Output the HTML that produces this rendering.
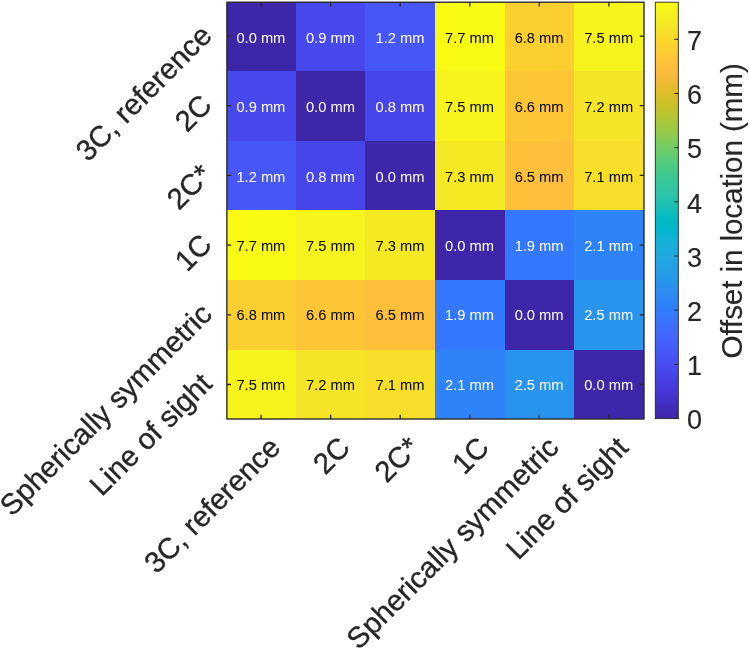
<!DOCTYPE html><html><head><meta charset="utf-8"><title>Offset in location heatmap</title><style>html,body{margin:0;padding:0;background:#fff}svg{display:block}text{font-family:"Liberation Sans",Arial,sans-serif}</style></head><body>
<svg width="749" height="648" viewBox="0 0 749 648">
<rect width="749" height="648" fill="#fff"/>
<defs><linearGradient id="cb" x1="0" y1="1" x2="0" y2="0">
<stop offset="0.0000" stop-color="#3e26a8"/>
<stop offset="0.0159" stop-color="#402ab4"/>
<stop offset="0.0317" stop-color="#422ec0"/>
<stop offset="0.0476" stop-color="#4332cb"/>
<stop offset="0.0635" stop-color="#4537d5"/>
<stop offset="0.0794" stop-color="#463cde"/>
<stop offset="0.0952" stop-color="#4741e5"/>
<stop offset="0.1111" stop-color="#4747eb"/>
<stop offset="0.1270" stop-color="#484df0"/>
<stop offset="0.1429" stop-color="#4852f4"/>
<stop offset="0.1587" stop-color="#4758f8"/>
<stop offset="0.1746" stop-color="#465efb"/>
<stop offset="0.1905" stop-color="#4563fd"/>
<stop offset="0.2063" stop-color="#4269fe"/>
<stop offset="0.2222" stop-color="#3e6fff"/>
<stop offset="0.2381" stop-color="#3875fe"/>
<stop offset="0.2540" stop-color="#327cfc"/>
<stop offset="0.2698" stop-color="#2f81fa"/>
<stop offset="0.2857" stop-color="#2e87f7"/>
<stop offset="0.3016" stop-color="#2d8cf3"/>
<stop offset="0.3175" stop-color="#2b91ef"/>
<stop offset="0.3333" stop-color="#2797eb"/>
<stop offset="0.3492" stop-color="#259be8"/>
<stop offset="0.3651" stop-color="#23a0e5"/>
<stop offset="0.3810" stop-color="#20a5e3"/>
<stop offset="0.3968" stop-color="#1ca9df"/>
<stop offset="0.4127" stop-color="#18addb"/>
<stop offset="0.4286" stop-color="#12b1d6"/>
<stop offset="0.4444" stop-color="#08b5d0"/>
<stop offset="0.4603" stop-color="#01b8ca"/>
<stop offset="0.4762" stop-color="#02bac3"/>
<stop offset="0.4921" stop-color="#0bbdbd"/>
<stop offset="0.5079" stop-color="#19bfb6"/>
<stop offset="0.5238" stop-color="#24c1ae"/>
<stop offset="0.5397" stop-color="#2cc4a7"/>
<stop offset="0.5556" stop-color="#31c69f"/>
<stop offset="0.5714" stop-color="#37c897"/>
<stop offset="0.5873" stop-color="#3fca8e"/>
<stop offset="0.6032" stop-color="#4acb84"/>
<stop offset="0.6190" stop-color="#57cc7a"/>
<stop offset="0.6349" stop-color="#64cd6f"/>
<stop offset="0.6508" stop-color="#72cd64"/>
<stop offset="0.6667" stop-color="#81cc59"/>
<stop offset="0.6825" stop-color="#8fcb4e"/>
<stop offset="0.6984" stop-color="#9dc943"/>
<stop offset="0.7143" stop-color="#abc739"/>
<stop offset="0.7302" stop-color="#b9c431"/>
<stop offset="0.7460" stop-color="#c5c22a"/>
<stop offset="0.7619" stop-color="#d1bf27"/>
<stop offset="0.7778" stop-color="#dcbd29"/>
<stop offset="0.7937" stop-color="#e6bb2d"/>
<stop offset="0.8095" stop-color="#f0ba36"/>
<stop offset="0.8254" stop-color="#f8ba3d"/>
<stop offset="0.8413" stop-color="#febe3c"/>
<stop offset="0.8571" stop-color="#fec338"/>
<stop offset="0.8730" stop-color="#fec934"/>
<stop offset="0.8889" stop-color="#fccf30"/>
<stop offset="0.9048" stop-color="#fad62d"/>
<stop offset="0.9206" stop-color="#f7dc2a"/>
<stop offset="0.9365" stop-color="#f5e327"/>
<stop offset="0.9524" stop-color="#f5e924"/>
<stop offset="0.9683" stop-color="#f6ef20"/>
<stop offset="0.9841" stop-color="#f7f51b"/>
<stop offset="1.0000" stop-color="#f9fb15"/>
</linearGradient></defs>
<clipPath id="cp"><rect x="226.90" y="2.20" width="417.10" height="416.80"/></clipPath><g clip-path="url(#cp)">
<rect x="226.30" y="1.60" width="69.86" height="69.54" fill="#3e26a8" shape-rendering="crispEdges"/>
<rect x="295.86" y="1.60" width="69.86" height="69.54" fill="#4849ed" shape-rendering="crispEdges"/>
<rect x="365.42" y="1.60" width="69.86" height="69.54" fill="#4757f7" shape-rendering="crispEdges"/>
<rect x="434.98" y="1.60" width="69.86" height="69.54" fill="#f9fb15" shape-rendering="crispEdges"/>
<rect x="504.54" y="1.60" width="69.86" height="69.54" fill="#fccf31" shape-rendering="crispEdges"/>
<rect x="574.10" y="1.60" width="69.86" height="69.54" fill="#f6f31d" shape-rendering="crispEdges"/>
<rect x="226.30" y="70.84" width="69.86" height="70.06" fill="#4849ed" shape-rendering="crispEdges"/>
<rect x="295.86" y="70.84" width="69.86" height="70.06" fill="#3e26a8" shape-rendering="crispEdges"/>
<rect x="365.42" y="70.84" width="69.86" height="70.06" fill="#4745e9" shape-rendering="crispEdges"/>
<rect x="434.98" y="70.84" width="69.86" height="70.06" fill="#f6f31d" shape-rendering="crispEdges"/>
<rect x="504.54" y="70.84" width="69.86" height="70.06" fill="#fec537" shape-rendering="crispEdges"/>
<rect x="574.10" y="70.84" width="69.86" height="70.06" fill="#f5e427" shape-rendering="crispEdges"/>
<rect x="226.30" y="140.60" width="69.86" height="70.00" fill="#4757f7" shape-rendering="crispEdges"/>
<rect x="295.86" y="140.60" width="69.86" height="70.00" fill="#4745e9" shape-rendering="crispEdges"/>
<rect x="365.42" y="140.60" width="69.86" height="70.00" fill="#3e26a8" shape-rendering="crispEdges"/>
<rect x="434.98" y="140.60" width="69.86" height="70.00" fill="#f5e924" shape-rendering="crispEdges"/>
<rect x="504.54" y="140.60" width="69.86" height="70.00" fill="#fec03b" shape-rendering="crispEdges"/>
<rect x="574.10" y="140.60" width="69.86" height="70.00" fill="#f6de29" shape-rendering="crispEdges"/>
<rect x="226.30" y="210.30" width="69.86" height="70.10" fill="#f9fb15" shape-rendering="crispEdges"/>
<rect x="295.86" y="210.30" width="69.86" height="70.10" fill="#f6f31d" shape-rendering="crispEdges"/>
<rect x="365.42" y="210.30" width="69.86" height="70.10" fill="#f5e924" shape-rendering="crispEdges"/>
<rect x="434.98" y="210.30" width="69.86" height="70.10" fill="#3e26a8" shape-rendering="crispEdges"/>
<rect x="504.54" y="210.30" width="69.86" height="70.10" fill="#3479fd" shape-rendering="crispEdges"/>
<rect x="574.10" y="210.30" width="69.86" height="70.10" fill="#2e83f9" shape-rendering="crispEdges"/>
<rect x="226.30" y="280.10" width="69.86" height="70.04" fill="#fccf31" shape-rendering="crispEdges"/>
<rect x="295.86" y="280.10" width="69.86" height="70.04" fill="#fec537" shape-rendering="crispEdges"/>
<rect x="365.42" y="280.10" width="69.86" height="70.04" fill="#fec03b" shape-rendering="crispEdges"/>
<rect x="434.98" y="280.10" width="69.86" height="70.04" fill="#3479fd" shape-rendering="crispEdges"/>
<rect x="504.54" y="280.10" width="69.86" height="70.04" fill="#3e26a8" shape-rendering="crispEdges"/>
<rect x="574.10" y="280.10" width="69.86" height="70.04" fill="#2994ed" shape-rendering="crispEdges"/>
<rect x="226.30" y="349.84" width="69.86" height="69.66" fill="#f6f31d" shape-rendering="crispEdges"/>
<rect x="295.86" y="349.84" width="69.86" height="69.66" fill="#f5e427" shape-rendering="crispEdges"/>
<rect x="365.42" y="349.84" width="69.86" height="69.66" fill="#f6de29" shape-rendering="crispEdges"/>
<rect x="434.98" y="349.84" width="69.86" height="69.66" fill="#2e83f9" shape-rendering="crispEdges"/>
<rect x="504.54" y="349.84" width="69.86" height="69.66" fill="#2994ed" shape-rendering="crispEdges"/>
<rect x="574.10" y="349.84" width="69.86" height="69.66" fill="#3e26a8" shape-rendering="crispEdges"/>
</g>
<text x="260.88" y="42.96" font-size="14.70" fill="#fff" text-anchor="middle">0.0 mm</text>
<text x="330.44" y="42.96" font-size="14.70" fill="#fff" text-anchor="middle">0.9 mm</text>
<text x="400.00" y="42.96" font-size="14.70" fill="#fff" text-anchor="middle">1.2 mm</text>
<text x="469.56" y="42.96" font-size="14.70" fill="#000" text-anchor="middle">7.7 mm</text>
<text x="539.12" y="42.96" font-size="14.70" fill="#000" text-anchor="middle">6.8 mm</text>
<text x="608.68" y="42.96" font-size="14.70" fill="#000" text-anchor="middle">7.5 mm</text>
<text x="260.88" y="112.34" font-size="14.70" fill="#fff" text-anchor="middle">0.9 mm</text>
<text x="330.44" y="112.34" font-size="14.70" fill="#fff" text-anchor="middle">0.0 mm</text>
<text x="400.00" y="112.34" font-size="14.70" fill="#fff" text-anchor="middle">0.8 mm</text>
<text x="469.56" y="112.34" font-size="14.70" fill="#000" text-anchor="middle">7.5 mm</text>
<text x="539.12" y="112.34" font-size="14.70" fill="#000" text-anchor="middle">6.6 mm</text>
<text x="608.68" y="112.34" font-size="14.70" fill="#000" text-anchor="middle">7.2 mm</text>
<text x="260.88" y="181.72" font-size="14.70" fill="#fff" text-anchor="middle">1.2 mm</text>
<text x="330.44" y="181.72" font-size="14.70" fill="#fff" text-anchor="middle">0.8 mm</text>
<text x="400.00" y="181.72" font-size="14.70" fill="#fff" text-anchor="middle">0.0 mm</text>
<text x="469.56" y="181.72" font-size="14.70" fill="#000" text-anchor="middle">7.3 mm</text>
<text x="539.12" y="181.72" font-size="14.70" fill="#000" text-anchor="middle">6.5 mm</text>
<text x="608.68" y="181.72" font-size="14.70" fill="#000" text-anchor="middle">7.1 mm</text>
<text x="260.88" y="251.10" font-size="14.70" fill="#000" text-anchor="middle">7.7 mm</text>
<text x="330.44" y="251.10" font-size="14.70" fill="#000" text-anchor="middle">7.5 mm</text>
<text x="400.00" y="251.10" font-size="14.70" fill="#000" text-anchor="middle">7.3 mm</text>
<text x="469.56" y="251.10" font-size="14.70" fill="#fff" text-anchor="middle">0.0 mm</text>
<text x="539.12" y="251.10" font-size="14.70" fill="#fff" text-anchor="middle">1.9 mm</text>
<text x="608.68" y="251.10" font-size="14.70" fill="#fff" text-anchor="middle">2.1 mm</text>
<text x="260.88" y="320.48" font-size="14.70" fill="#000" text-anchor="middle">6.8 mm</text>
<text x="330.44" y="320.48" font-size="14.70" fill="#000" text-anchor="middle">6.6 mm</text>
<text x="400.00" y="320.48" font-size="14.70" fill="#000" text-anchor="middle">6.5 mm</text>
<text x="469.56" y="320.48" font-size="14.70" fill="#fff" text-anchor="middle">1.9 mm</text>
<text x="539.12" y="320.48" font-size="14.70" fill="#fff" text-anchor="middle">0.0 mm</text>
<text x="608.68" y="320.48" font-size="14.70" fill="#fff" text-anchor="middle">2.5 mm</text>
<text x="260.88" y="389.86" font-size="14.70" fill="#000" text-anchor="middle">7.5 mm</text>
<text x="330.44" y="389.86" font-size="14.70" fill="#000" text-anchor="middle">7.2 mm</text>
<text x="400.00" y="389.86" font-size="14.70" fill="#000" text-anchor="middle">7.1 mm</text>
<text x="469.56" y="389.86" font-size="14.70" fill="#fff" text-anchor="middle">2.1 mm</text>
<text x="539.12" y="389.86" font-size="14.70" fill="#fff" text-anchor="middle">2.5 mm</text>
<text x="608.68" y="389.86" font-size="14.70" fill="#fff" text-anchor="middle">0.0 mm</text>
<rect x="226.90" y="2.20" width="417.10" height="416.80" fill="none" stroke="#262626" stroke-width="1.35"/>
<path d="M261.08 419.00v-4.20M261.08 2.20v4.20M226.90 36.22h4.20M644.00 36.22h-4.20" stroke="#262626" stroke-width="1.3" fill="none"/>
<path d="M330.64 419.00v-4.20M330.64 2.20v4.20M226.90 105.72h4.20M644.00 105.72h-4.20" stroke="#262626" stroke-width="1.3" fill="none"/>
<path d="M400.20 419.00v-4.20M400.20 2.20v4.20M226.90 175.45h4.20M644.00 175.45h-4.20" stroke="#262626" stroke-width="1.3" fill="none"/>
<path d="M469.76 419.00v-4.20M469.76 2.20v4.20M226.90 245.20h4.20M644.00 245.20h-4.20" stroke="#262626" stroke-width="1.3" fill="none"/>
<path d="M539.32 419.00v-4.20M539.32 2.20v4.20M226.90 314.97h4.20M644.00 314.97h-4.20" stroke="#262626" stroke-width="1.3" fill="none"/>
<path d="M608.88 419.00v-4.20M608.88 2.20v4.20M226.90 384.52h4.20M644.00 384.52h-4.20" stroke="#262626" stroke-width="1.3" fill="none"/>
<text transform="translate(282.08 449.20) rotate(-45)" font-size="29.30" fill="#262626" stroke="#262626" stroke-width="0.35" text-anchor="end">3C, reference</text>
<text transform="translate(213.50 37.22) rotate(-45)" font-size="29.30" fill="#262626" stroke="#262626" stroke-width="0.35" text-anchor="end">3C, reference</text>
<text transform="translate(351.64 449.20) rotate(-45)" font-size="29.30" fill="#262626" stroke="#262626" stroke-width="0.35" text-anchor="end">2C</text>
<text transform="translate(213.50 106.72) rotate(-45)" font-size="29.30" fill="#262626" stroke="#262626" stroke-width="0.35" text-anchor="end">2C</text>
<text transform="translate(421.20 449.20) rotate(-45)" font-size="29.30" fill="#262626" stroke="#262626" stroke-width="0.35" text-anchor="end">2C*</text>
<text transform="translate(213.50 176.45) rotate(-45)" font-size="29.30" fill="#262626" stroke="#262626" stroke-width="0.35" text-anchor="end">2C*</text>
<text transform="translate(490.76 449.20) rotate(-45)" font-size="29.30" fill="#262626" stroke="#262626" stroke-width="0.35" text-anchor="end">1C</text>
<text transform="translate(213.50 246.20) rotate(-45)" font-size="29.30" fill="#262626" stroke="#262626" stroke-width="0.35" text-anchor="end">1C</text>
<text transform="translate(560.32 449.20) rotate(-45)" font-size="29.30" fill="#262626" stroke="#262626" stroke-width="0.35" text-anchor="end">Spherically symmetric</text>
<text transform="translate(213.50 315.97) rotate(-45)" font-size="29.30" fill="#262626" stroke="#262626" stroke-width="0.35" text-anchor="end">Spherically symmetric</text>
<text transform="translate(629.88 449.20) rotate(-45)" font-size="29.30" fill="#262626" stroke="#262626" stroke-width="0.35" text-anchor="end">Line of sight</text>
<text transform="translate(213.50 385.52) rotate(-45)" font-size="29.30" fill="#262626" stroke="#262626" stroke-width="0.35" text-anchor="end">Line of sight</text>
<rect x="655.30" y="2.20" width="23.00" height="416.40" fill="url(#cb)" stroke="#262626" stroke-width="0.9"/>
<path d="M678.30 418.50h-4" stroke="#262626" stroke-width="1"/>
<text x="687.00" y="429.20" font-size="27.00" fill="#262626" stroke="#262626" stroke-width="0.15">0</text>
<path d="M678.30 364.33h-4" stroke="#262626" stroke-width="1"/>
<text x="687.00" y="375.03" font-size="27.00" fill="#262626" stroke="#262626" stroke-width="0.15">1</text>
<path d="M678.30 310.16h-4" stroke="#262626" stroke-width="1"/>
<text x="687.00" y="320.86" font-size="27.00" fill="#262626" stroke="#262626" stroke-width="0.15">2</text>
<path d="M678.30 255.99h-4" stroke="#262626" stroke-width="1"/>
<text x="687.00" y="266.69" font-size="27.00" fill="#262626" stroke="#262626" stroke-width="0.15">3</text>
<path d="M678.30 201.82h-4" stroke="#262626" stroke-width="1"/>
<text x="687.00" y="212.52" font-size="27.00" fill="#262626" stroke="#262626" stroke-width="0.15">4</text>
<path d="M678.30 147.65h-4" stroke="#262626" stroke-width="1"/>
<text x="687.00" y="158.35" font-size="27.00" fill="#262626" stroke="#262626" stroke-width="0.15">5</text>
<path d="M678.30 93.48h-4" stroke="#262626" stroke-width="1"/>
<text x="687.00" y="104.18" font-size="27.00" fill="#262626" stroke="#262626" stroke-width="0.15">6</text>
<path d="M678.30 39.31h-4" stroke="#262626" stroke-width="1"/>
<text x="687.00" y="50.01" font-size="27.00" fill="#262626" stroke="#262626" stroke-width="0.15">7</text>
<text transform="translate(742.40 210.90) rotate(-90)" font-size="29.70" fill="#262626" stroke="#262626" stroke-width="0.15" text-anchor="middle" letter-spacing="-0.12">Offset in location (mm)</text>
</svg></body></html>
